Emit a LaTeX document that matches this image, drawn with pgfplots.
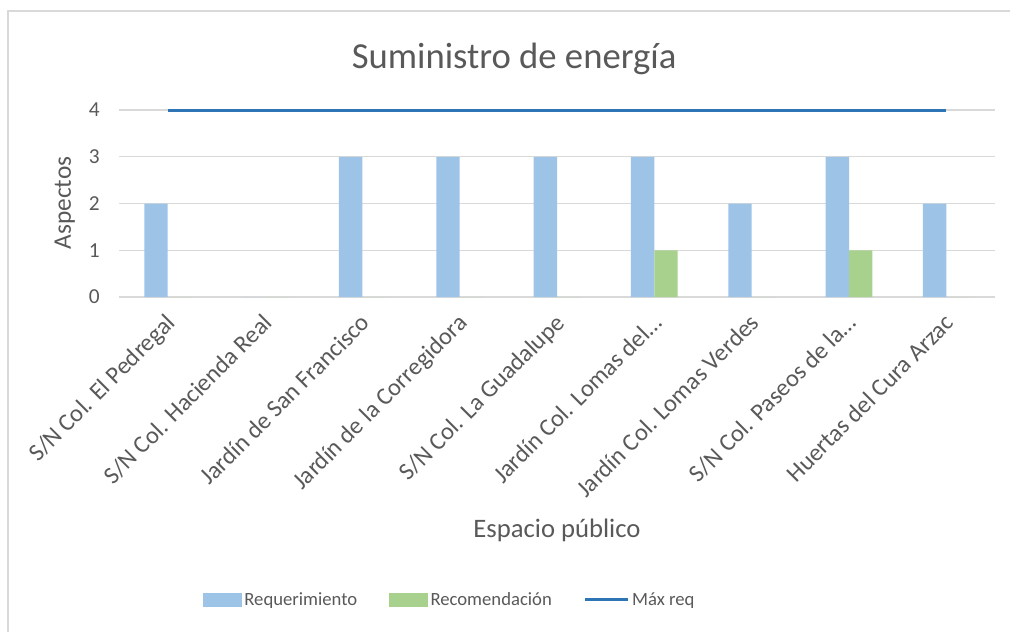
\documentclass[border=0pt]{standalone}
\usepackage{pgfplots}
\pgfplotsset{compat=1.18}
\usepackage{fontspec}
\setmainfont{Carlito}

\definecolor{reqblue}{HTML}{9DC3E6}
\definecolor{recgreen}{HTML}{A9D18E}
\definecolor{maxblue}{HTML}{2E75B6}
\definecolor{txtgray}{HTML}{595959}
\definecolor{gridgray}{HTML}{D9D9D9}

\begin{document}
\begin{tikzpicture}
  % marco del área del gráfico (solo se ven los bordes superior e izquierdo)
  \useasboundingbox (-89.25pt,-251.25pt) rectangle (668.25pt,222.75pt);
  \draw[gridgray, line width=1.2pt] (-83.25pt,-251.25pt) -- (-83.25pt,214.5pt) -- (668.25pt,214.5pt);

  \begin{axis}[
      scale only axis,
      width=657pt, height=140.25pt,
      xmin=-0.5, xmax=8.5,
      ymin=0, ymax=4,
      ytick={0,1,2,3,4},
      xtick={0,...,8},
      xticklabels={S/N Col. El Pedregal, S/N Col. Hacienda Real, Jardín de San Francisco,
        Jardín de la Corregidora, S/N Col. La Guadalupe, Jardín Col. Lomas del…,
        Jardín Col. Lomas Verdes, S/N Col. Paseos de la…, Huertas del Cura Arzac},
      axis line style={draw=none},
      major tick length=0pt,
      ymajorgrids,
      grid style={gridgray, line width=0.8pt},
      /pgf/number format/assume math mode=true,
      yticklabel style={font=\fontsize{16}{18}\selectfont, text=txtgray, xshift=-11pt},
      xticklabel style={font=\fontsize{18.3}{22}\selectfont, text=txtgray,
        xshift=-2.4pt, yshift=-11.4pt, rotate=45,
        anchor=north east, inner sep=0pt},
      clip=false,
      legend columns=3,
      legend style={at={(0.378,-1.62)}, anchor=center, draw=none,
        font=\fontsize{14}{16}\selectfont, text=txtgray,
        /tikz/every even column/.append style={column sep=22pt}},
      legend cell align=left,
    ]

    \addplot[ybar, bar width=0.24, bar shift=-0.12, fill=reqblue, draw=none,
      legend image code/.code={\fill[reqblue] (0pt,-5pt) rectangle (29pt,5pt);}]
      coordinates {(0,2) (1,0) (2,3) (3,3) (4,3) (5,3) (6,2) (7,3) (8,2)};
    \addlegendentry{Requerimiento}

    \addplot[ybar, bar width=0.24, bar shift=0.12, fill=recgreen, draw=none,
      legend image code/.code={\fill[recgreen] (0pt,-5pt) rectangle (29pt,5pt);}]
      coordinates {(0,0) (1,0) (2,0) (3,0) (4,0) (5,1) (6,0) (7,1) (8,0)};
    \addlegendentry{Recomendación}

    \addplot[maxblue, line width=2.25pt, mark=none,
      legend image code/.code={\draw[maxblue, line width=2.25pt] (0pt,0pt) -- (32pt,0pt);}]
      coordinates {(0,4) (1,4) (2,4) (3,4) (4,4) (5,4) (6,4) (7,4) (8,4)};
    \addlegendentry{Máx req}

    \node[font=\fontsize{27.5}{30}\selectfont, text=txtgray] at (axis description cs:0.451,1.275) {Suministro de energía};
    \node[font=\fontsize{20}{22}\selectfont, text=txtgray] at (axis description cs:0.5,-1.246) {Espacio público};
    \node[font=\fontsize{19}{22}\selectfont, text=txtgray, rotate=90] at (axis description cs:-0.062,0.503) {Aspectos};
  \end{axis}
\end{tikzpicture}
\end{document}
